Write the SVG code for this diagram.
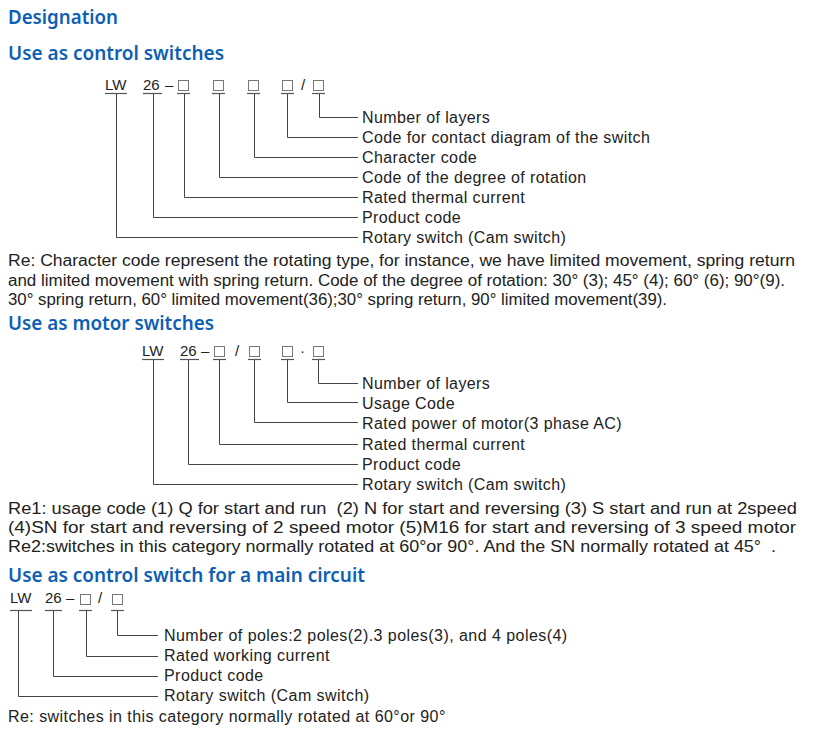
<svg xmlns="http://www.w3.org/2000/svg" width="814" height="738" viewBox="0 0 814 738">
<style>
.h{font-family:"Noto Sans","Open Sans",sans-serif;font-weight:600;font-size:19px;fill:#0d5fb5}
.c{font-family:"Liberation Sans",Arial,sans-serif;font-size:15px;fill:#222}
.l{font-family:"Liberation Sans",Arial,sans-serif;font-size:16px;letter-spacing:0.4px;fill:#222}
.l3{font-family:"Liberation Sans",Arial,sans-serif;font-size:16px;letter-spacing:0.45px;fill:#222}
.p{font-family:"Liberation Sans",Arial,sans-serif;font-size:16px;fill:#222}
.bx{fill:none;stroke:#777;stroke-width:1}
.u{stroke:#555;stroke-width:1.2}
.w{fill:none;stroke:#444;stroke-width:1}
</style>
<rect width="814" height="738" fill="#fff"/>
<text class="h" x="8" y="24" textLength="110" lengthAdjust="spacingAndGlyphs">Designation</text>
<text class="h" x="8" y="60" textLength="216" lengthAdjust="spacingAndGlyphs">Use as control switches</text>
<text class="h" x="8" y="330" textLength="206" lengthAdjust="spacingAndGlyphs">Use as motor switches</text>
<text class="h" x="8" y="582" textLength="357" lengthAdjust="spacingAndGlyphs">Use as control switch for a main circuit</text>

<g id="code1">
<text class="c" x="105" y="90">LW</text>
<text class="c" x="143" y="90">26</text>
<text class="c" x="165" y="90">–</text>
<rect class="bx" x="178.5" y="80.5" width="10" height="10"/>
<rect class="bx" x="213.5" y="80.5" width="10" height="10"/>
<rect class="bx" x="248.5" y="80.5" width="10" height="10"/>
<rect class="bx" x="282.5" y="80.5" width="10" height="10"/>
<text class="c" x="301" y="90">/</text>
<rect class="bx" x="313.5" y="80.5" width="10" height="10"/>
<g class="u">
<line x1="105" y1="93.5" x2="127" y2="93.5"/><line x1="143" y1="93.5" x2="162" y2="93.5"/>
<line x1="177" y1="93.5" x2="190" y2="93.5"/><line x1="212" y1="93.5" x2="225" y2="93.5"/>
<line x1="247" y1="93.5" x2="260" y2="93.5"/><line x1="281" y1="93.5" x2="294" y2="93.5"/>
<line x1="312" y1="93.5" x2="325" y2="93.5"/>
</g>
</g>
<g id="connectors1" class="w">
<polyline points="319.5,94 319.5,117.5 358,117.5"/>
<polyline points="287.5,94 287.5,137.5 358,137.5"/>
<polyline points="254.5,94 254.5,157.5 358,157.5"/>
<polyline points="219.5,94 219.5,177.5 358,177.5"/>
<polyline points="184.5,94 184.5,197.5 358,197.5"/>
<polyline points="153.5,94 153.5,217.5 358,217.5"/>
<polyline points="116.5,94 116.5,237.5 358,237.5"/>
</g>
<g id="labels1">
<text class="l" x="362" y="123">Number of layers</text>
<text class="l" x="362" y="143">Code for contact diagram of the switch</text>
<text class="l" x="362" y="163">Character code</text>
<text class="l" x="362" y="183">Code of the degree of rotation</text>
<text class="l" x="362" y="203">Rated thermal current</text>
<text class="l" x="362" y="223">Product code</text>
<text class="l" x="362" y="243">Rotary switch (Cam switch)</text>
</g>
<g id="note1">
<text class="p" x="8" y="266" textLength="787" lengthAdjust="spacingAndGlyphs">Re: Character code represent the rotating type, for instance, we have limited movement, spring return</text>
<text class="p" x="8" y="286" textLength="777" lengthAdjust="spacingAndGlyphs">and limited movement with spring return. Code of the degree of rotation: 30° (3); 45° (4); 60° (6); 90°(9).</text>
<text class="p" x="8" y="305" textLength="659" lengthAdjust="spacingAndGlyphs">30° spring return, 60° limited movement(36);30° spring return, 90° limited movement(39).</text>
</g>

<g id="code2">
<text class="c" x="142" y="356">LW</text>
<text class="c" x="180" y="356">26</text>
<text class="c" x="201" y="356">–</text>
<rect class="bx" x="214.5" y="346.5" width="10" height="10"/>
<text class="c" x="235" y="356">/</text>
<rect class="bx" x="249.5" y="346.5" width="10" height="10"/>
<rect class="bx" x="282.5" y="346.5" width="10" height="10"/>
<text class="c" x="300" y="356">·</text>
<rect class="bx" x="313.5" y="346.5" width="10" height="10"/>
<g class="u">
<line x1="142" y1="359.5" x2="164" y2="359.5"/><line x1="180" y1="359.5" x2="199" y2="359.5"/>
<line x1="213" y1="359.5" x2="226" y2="359.5"/><line x1="248" y1="359.5" x2="261" y2="359.5"/>
<line x1="281" y1="359.5" x2="294" y2="359.5"/><line x1="312" y1="359.5" x2="325" y2="359.5"/>
</g>
</g>
<g id="connectors2" class="w">
<polyline points="318.5,360 318.5,383.5 358,383.5"/>
<polyline points="287.5,360 287.5,402.5 358,402.5"/>
<polyline points="254.5,360 254.5,422.5 358,422.5"/>
<polyline points="219.5,360 219.5,444.5 358,444.5"/>
<polyline points="188.5,360 188.5,464.5 358,464.5"/>
<polyline points="153.5,360 153.5,484.5 358,484.5"/>
</g>
<g id="labels2">
<text class="l" x="362" y="389">Number of layers</text>
<text class="l" x="362" y="409">Usage Code</text>
<text class="l" x="362" y="429">Rated power of motor(3 phase AC)</text>
<text class="l" x="362" y="450">Rated thermal current</text>
<text class="l" x="362" y="470">Product code</text>
<text class="l" x="362" y="490">Rotary switch (Cam switch)</text>
</g>
<g id="note2">
<text class="p" x="8" y="514" textLength="789" lengthAdjust="spacingAndGlyphs" xml:space="preserve">Re1: usage code (1) Q for start and run  (2) N for start and reversing (3) S start and run at 2speed</text>
<text class="p" x="8" y="533" textLength="788" lengthAdjust="spacingAndGlyphs">(4)SN for start and reversing of 2 speed motor (5)M16 for start and reversing of 3 speed motor</text>
<text class="p" x="8" y="552" textLength="768" lengthAdjust="spacingAndGlyphs" xml:space="preserve">Re2:switches in this category normally rotated at 60°or 90°. And the SN normally rotated at 45°  .</text>
</g>

<g id="code3">
<text class="c" x="10" y="603">LW</text>
<text class="c" x="45" y="603">26</text>
<text class="c" x="66" y="603">–</text>
<rect class="bx" x="80.5" y="594.5" width="10" height="10"/>
<text class="c" x="98" y="603">/</text>
<rect class="bx" x="112.5" y="594.5" width="10" height="10"/>
<g class="u">
<line x1="10" y1="610.5" x2="32" y2="610.5"/><line x1="45" y1="610.5" x2="62" y2="610.5"/>
<line x1="79" y1="610.5" x2="92" y2="610.5"/><line x1="111" y1="610.5" x2="124" y2="610.5"/>
</g>
</g>
<g id="connectors3" class="w">
<polyline points="117.5,611 117.5,635.5 158,635.5"/>
<polyline points="86.5,611 86.5,656.5 158,656.5"/>
<polyline points="53.5,611 53.5,676.5 158,676.5"/>
<polyline points="18.5,611 18.5,696.5 158,696.5"/>
</g>
<g id="labels3">
<text class="l3" x="164" y="641">Number of poles:2 poles(2).3 poles(3), and 4 poles(4)</text>
<text class="l3" x="164" y="661">Rated working current</text>
<text class="l3" x="164" y="681">Product code</text>
<text class="l3" x="164" y="701">Rotary switch (Cam switch)</text>
</g>
<text class="l3" x="8" y="722">Re: switches in this category normally rotated at 60°or 90°</text>
</svg>
